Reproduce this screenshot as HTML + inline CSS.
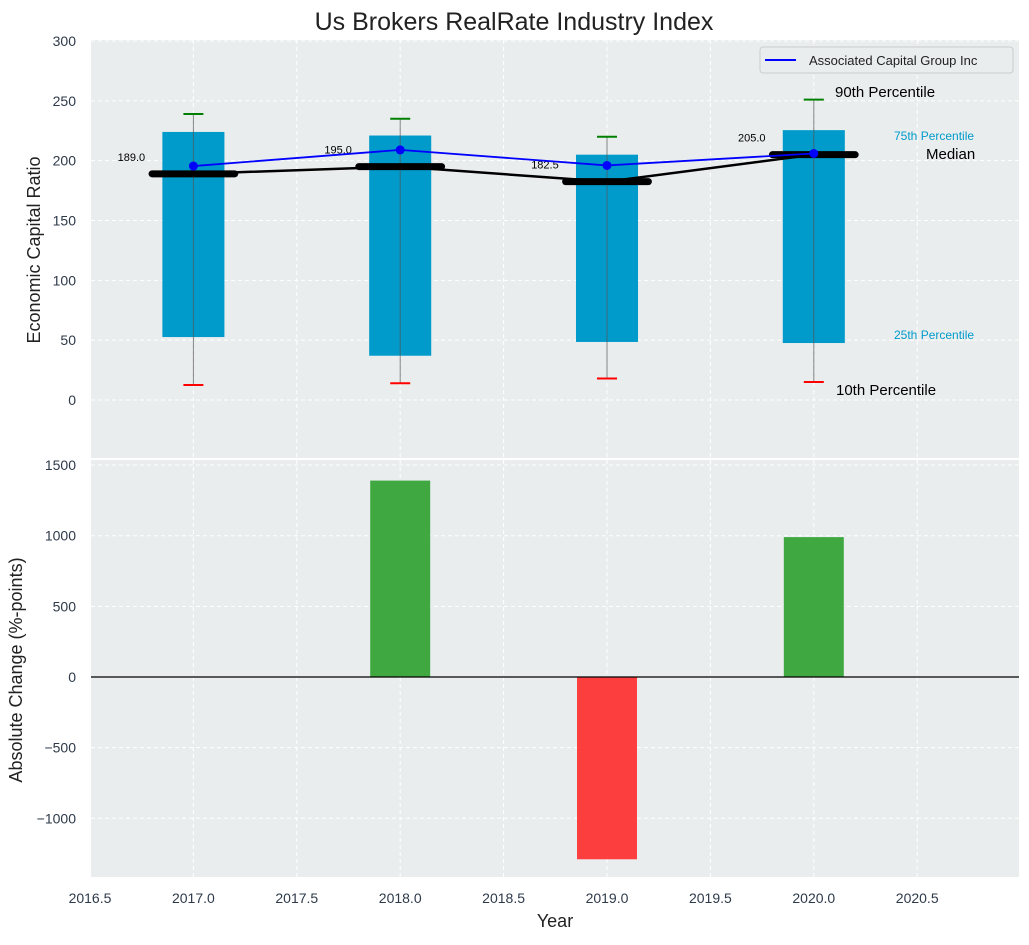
<!DOCTYPE html>
<html><head><meta charset="utf-8"><style>
body{margin:0;background:#fff;font-family:"Liberation Sans",sans-serif;}
svg text{font-family:"Liberation Sans",sans-serif;}
</style></head><body>
<svg id="chart" width="1029" height="940" xmlns="http://www.w3.org/2000/svg"></svg>
<script>
const years=[2017,2018,2019,2020];
const p10=[12.5,14,18,15];
const p25=[52.6,37,48.5,47.6];
const medians=[189,195,182.5,205];
const p75=[224,221,205,225.5];
const p90=[239,235,220,251];
const company=[195.5,209,196,206];
const changes=[0,1390,-1290,990];
const xTicks=[2016.5,2017,2017.5,2018,2018.5,2019,2019.5,2020,2020.5];
const yTopTicks=[0,50,100,150,200,250,300];
const yBotTicks=[-1000,-500,0,500,1000,1500];

const svg=document.getElementById('chart');
const NS='http://www.w3.org/2000/svg';
function el(t,a,txt){const e=document.createElementNS(NS,t);for(const k in a)e.setAttribute(k,a[k]);if(txt!==undefined)e.textContent=txt;svg.appendChild(e);return e;}
const L=91,R=1019,T1=40,B1=458,T2=460,B2=877;
const X=v=>90+(v-2016.5)*206.8;
const Y1=v=>400-v*1.1967;
const Y2=v=>677-v*0.1413;

let e;
e=el('rect',{x:L,y:T1,width:R-L,height:B1-T1,fill:'#eaedee'});


e=el('rect',{x:L,y:T2,width:R-L,height:B2-T2,fill:'#eaedee'});



xTicks.forEach(v=>{[[T1,B1],[T2,B2]].forEach(([a,b])=>{el('line',{x1:X(v),x2:X(v),y1:a,y2:b,stroke:'#fff','stroke-dasharray':'4,3','stroke-width':1});});});
yTopTicks.forEach(v=>{el('line',{x1:L,x2:R,y1:Y1(v),y2:Y1(v),stroke:'#fff','stroke-dasharray':'4,3'});
 e=el('text',{x:76,y:Y1(v)+5,'text-anchor':'end','font-size':14,fill:'#2e3a4a'},v);
 
 });
yBotTicks.forEach(v=>{el('line',{x1:L,x2:R,y1:Y2(v),y2:Y2(v),stroke:'#fff','stroke-dasharray':'4,3'});
 e=el('text',{x:76,y:Y2(v)+5,'text-anchor':'end','font-size':14,fill:'#2e3a4a'},v<0?'\u2212'+(-v):v);
 
 });
xTicks.forEach(v=>{e=el('text',{x:X(v),y:903,'text-anchor':'middle','font-size':14,fill:'#2e3a4a'},v.toFixed(1));
 
 });

years.forEach((y,i)=>{
 e=el('rect',{x:X(y-0.15),y:Y1(p75[i]),width:0.3*206.8,height:Y1(p25[i])-Y1(p75[i]),fill:'#009bcb'});
 
 
 el('line',{x1:X(y),x2:X(y),y1:Y1(p90[i]),y2:Y1(p10[i]),stroke:'#555','stroke-width':1,opacity:0.7});
 e=el('line',{x1:X(y)-10,x2:X(y)+10,y1:Y1(p90[i]),y2:Y1(p90[i]),stroke:'green','stroke-width':2});
 
 
 e=el('line',{x1:X(y)-10,x2:X(y)+10,y1:Y1(p10[i]),y2:Y1(p10[i]),stroke:'red','stroke-width':2});
 
 
});
e=el('polyline',{points:years.map((y,i)=>X(y)+','+Y1(medians[i])).join(' '),fill:'none',stroke:'#000','stroke-width':2.5});


years.forEach((y,i)=>{
 e=el('line',{x1:X(y-0.2),x2:X(y+0.2),y1:Y1(medians[i]),y2:Y1(medians[i]),stroke:'#000','stroke-width':7,'stroke-linecap':'round'});
 
 
 e=el('text',{x:X(y-0.3),y:Y1(medians[i])-13,'text-anchor':'middle','font-size':11,fill:'#000'},medians[i].toFixed(1));
 
 
});
e=el('polyline',{points:years.map((y,i)=>X(y)+','+Y1(company[i])).join(' '),fill:'none',stroke:'blue','stroke-width':1.8});


years.forEach((y,i)=>{e=el('circle',{cx:X(y),cy:Y1(company[i]),r:4.5,fill:'blue'});
 
 });

const ann=[[835,97,'90th Percentile',15,'#000'],[894,140,'75th Percentile',12,'#009bcb'],[926,159,'Median',15,'#000'],[894,339,'25th Percentile',12,'#009bcb'],[836,395,'10th Percentile',15,'#000']];
ann.forEach(a=>{e=el('text',{x:a[0],y:a[1],'font-size':a[3],fill:a[4]},a[2]);
 
 });

e=el('rect',{x:760,y:47,width:253,height:26,rx:3,fill:'#eaedee',stroke:'#ccc'});


el('line',{x1:765,x2:796,y1:60,y2:60,stroke:'blue','stroke-width':2});
e=el('text',{x:809,y:65,'font-size':13,fill:'#222'},'Associated Capital Group Inc');



years.forEach((y,i)=>{const v=changes[i];
 e=el('rect',{x:X(y-0.145),y:Math.min(Y2(v),Y2(0)),width:0.29*206.8,height:Math.abs(Y2(v)-Y2(0)),fill:v>=0?'#2ca02c':'#ff2a2a',opacity:0.9});
 
 });
el('line',{x1:L,x2:R,y1:Y2(0),y2:Y2(0),stroke:'#000','stroke-width':1.2});

e=el('text',{x:514,y:30,'text-anchor':'middle','font-size':25,fill:'#222'},'Us Brokers RealRate Industry Index');


e=el('text',{x:40,y:250,'text-anchor':'middle','font-size':18,fill:'#222',transform:'rotate(-90 40 250)'},'Economic Capital Ratio');


e=el('text',{x:22,y:670,'text-anchor':'middle','font-size':18,fill:'#222',transform:'rotate(-90 22 670)'},'Absolute Change (%-points)');


e=el('text',{x:555,y:927,'text-anchor':'middle','font-size':18,fill:'#222'},'Year');


</script>
</body></html>
